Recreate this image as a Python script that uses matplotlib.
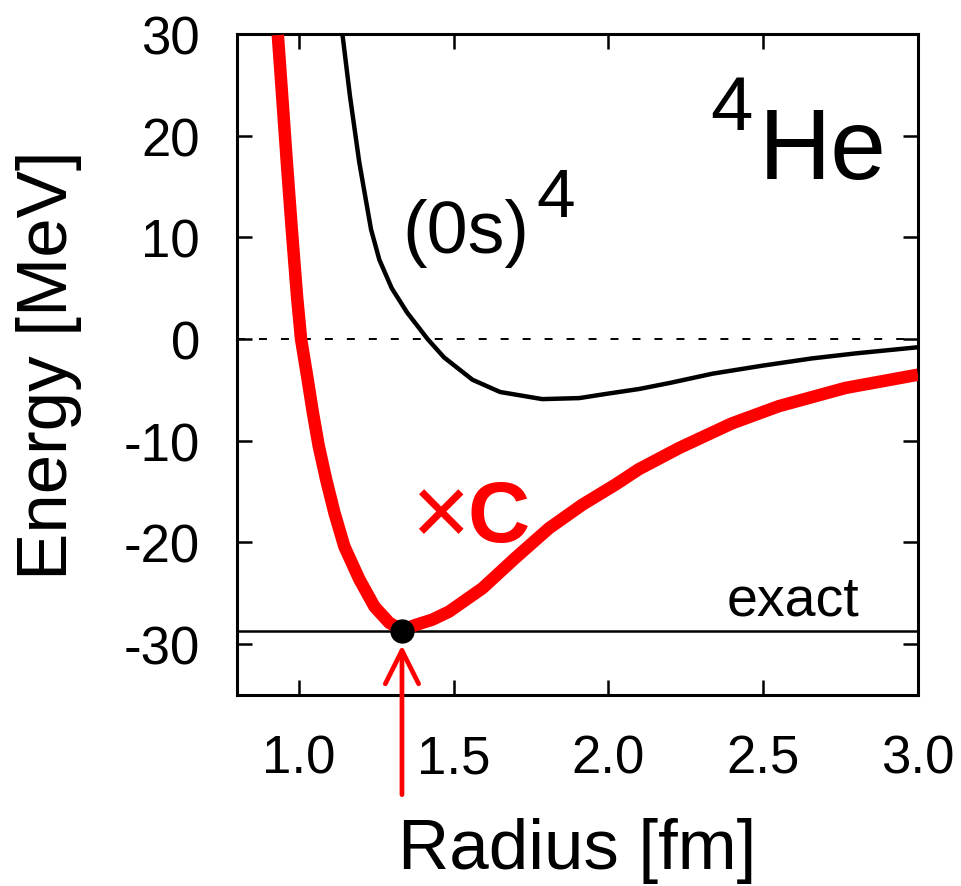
import matplotlib
matplotlib.use("Agg")
import matplotlib.pyplot as plt

plt.rcParams['font.family'] = ['Liberation Sans', 'DejaVu Sans']
plt.rcParams['axes.unicode_minus'] = False

# (0s)^4 curve
r_0s = [1.141, 1.165, 1.195, 1.233, 1.26, 1.30, 1.35, 1.416, 1.469, 1.561,
        1.65, 1.786, 1.906, 1.99, 2.1, 2.2, 2.336, 2.5, 2.657, 2.8, 3.0]
e_0s = [29.9, 23.9, 17.4, 10.8, 7.8, 5.0, 2.6, 0, -1.8, -4.0,
        -5.2, -5.9, -5.8, -5.4, -4.9, -4.3, -3.4, -2.6, -1.9, -1.4, -0.8]

# xC curve (red)
r_xc = [0.932, 0.946, 0.961, 0.977, 0.994, 1.007, 1.028, 1.045, 1.064, 1.088,
        1.115, 1.147, 1.195, 1.244, 1.292, 1.333, 1.378, 1.43, 1.485, 1.593,
        1.70, 1.808, 1.915, 2.023, 2.098, 2.229, 2.398, 2.55, 2.766, 3.0]
e_xc = [29.9, 23.9, 17.4, 10.8, 4.2, 0, -3.9, -7.2, -10.5, -13.8,
        -17.1, -20.4, -23.6, -26.3, -27.9, -28.6, -28.1, -27.6, -26.8, -24.5,
        -21.5, -18.6, -16.3, -14.3, -12.8, -10.7, -8.3, -6.6, -4.8, -3.5]

e_exact = -28.7
r_min = 1.333

xticks = [1.0, 1.5, 2.0, 2.5, 3.0]
xticklabels = ['1.0', '1.5', '2.0', '2.5', '3.0']
yticks = [-30, -20, -10, 0, 10, 20, 30]

fig = plt.figure(figsize=(9.61, 8.87), dpi=100)
ax = fig.add_axes([0.2466, 0.2153, 0.7086, 0.7452])

ax.axhline(0, color='black', lw=1.4, dashes=(4.1, 7.2), zorder=1)
ax.axhline(e_exact, color='black', lw=1.8, zorder=1)
ax.plot(r_0s, e_0s, color='black', lw=3.2, zorder=2, solid_joinstyle='round')
ax.plot(r_xc, e_xc, color='#ff0000', lw=9, zorder=3, solid_joinstyle='round',
        solid_capstyle='butt')
ax.plot([r_min], [e_exact], 'o', color='black', markersize=16.5, zorder=5)

# red arrow pointing at the minimum
ax.annotate('', xy=(r_min, -30.1), xytext=(r_min, -44.8),
            arrowprops=dict(arrowstyle='->, head_length=2.4, head_width=1.2',
                            color='#ff0000', lw=3.4, shrinkA=0, shrinkB=0,
                            mutation_scale=10),
            annotation_clip=False)

ax.text(1.334, 8.6, '(0s)', fontsize=53, ha='left', va='baseline')
ax.text(1.767, 17.0, '4', fontsize=50, ha='left', va='top')
ax.text(2.33, 26.1, '4', fontsize=55, ha='left', va='top')
ax.text(2.486, 15.8, 'He', fontsize=72, ha='left', va='baseline')
ax.text(1.458, -17.6, '\u00d7', fontsize=72, color='#ff0000', ha='center', va='center')
ax.text(1.544, -19.9, 'C', fontsize=62, fontweight='bold', color='#ff0000',
        ha='left', va='baseline')
ax.text(2.382, -27.1, 'exact', fontsize=40, ha='left', va='baseline')

ax.set_xlim(0.8, 3.0)
ax.set_ylim(-35, 30)
ax.set_xticks(xticks)
ax.set_xticklabels(xticklabels)
ax.set_yticks(yticks)
ax.tick_params(direction='in', length=10.8, width=1.8, labelsize=38,
               top=True, right=True)
ax.tick_params(axis='x', pad=28)
ax.tick_params(axis='y', pad=26.6)
for s in ax.spines.values():
    s.set_linewidth(2.2)

ax.set_xlabel('Radius [fm]', fontsize=51)
ax.set_ylabel('Energy [MeV]', fontsize=51)
ax.xaxis.set_label_coords(0.5, -0.185)
ax.yaxis.set_label_coords(-0.2276, 0.5)

fig.savefig('out.png', dpi=100)
